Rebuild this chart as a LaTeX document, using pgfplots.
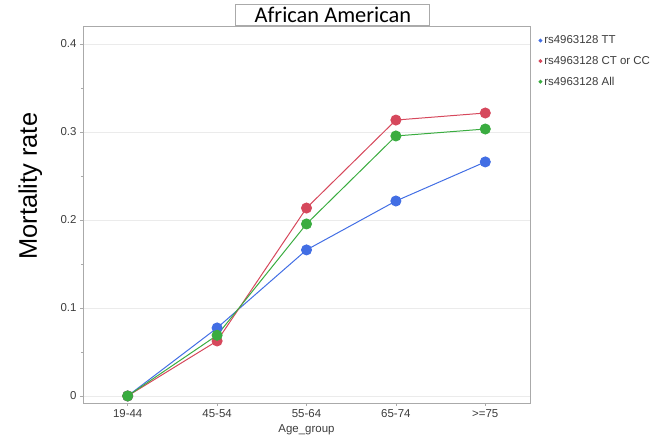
\documentclass[border=0pt]{standalone}
\usepackage{fontspec}
\setmainfont{Liberation Sans}
\newfontfamily\calibri{Carlito}
\usepackage{pgfplots}
\pgfplotsset{compat=1.18}
\definecolor{cblue}{RGB}{66,110,228}
\definecolor{cred}{RGB}{214,72,92}
\definecolor{cgreen}{RGB}{58,172,64}
\definecolor{axgray}{RGB}{170,170,170}
\definecolor{txtgray}{RGB}{60,60,60}
\begin{document}
\begin{tikzpicture}
\path[use as bounding box] (0,0) rectangle (653bp,442bp);
\begin{axis}[
  at={(83bp,39bp)}, anchor=south west,
  width=447bp, height=377bp, scale only axis,
  xmin=-0.5, xmax=4.5,
  ymin=-0.008, ymax=0.4205,
  xtick={0,1,2,3,4},
  xticklabels={19-44,45-54,55-64,65-74,>=75},
  ytick={0,0.1,0.2,0.3,0.4},
  yticklabels={0,0.1,0.2,0.3,0.4},
  minor ytick={0.05,0.15,0.25,0.35},
  ytick pos=left, xtick pos=bottom,
  tick align=outside,
  major tick length=3bp, minor tick length=2bp,
  tick style={axgray, line width=0.6pt},
  axis line style={axgray, line width=0.8pt},
  ymajorgrids, major grid style={color=black!8, line width=0.8pt},
  /pgf/number format/assume math mode=true,
  tick label style={font=\fontsize{11.5}{12}\selectfont, text=txtgray},
  xlabel={Age\_group},
  xlabel style={font=\fontsize{11.5}{12}\selectfont, text=txtgray, yshift=0bp},
  ylabel={Mortality rate},
  ylabel style={font=\fontsize{25.5}{28}\selectfont, at={(axis description cs:-0.118,0.575)}, anchor=center},
  every axis title shift=0pt,
  title={\calibri African American},
  title style={font=\fontsize{22.5}{24}\selectfont, at={(axis description cs:0.559,1)}, anchor=south,
    draw=axgray, line width=0.8pt, fill=white, minimum width=194bp, minimum height=21bp, inner sep=0pt},
  legend style={at={(1.012,0.985)}, anchor=north west, draw=none, fill=none,
    font=\fontsize{11.5}{12}\selectfont, text=txtgray, row sep=7bp, cells={anchor=west}},
  legend image code/.code={\fill[#1] (0.1cm,0) circle (1.4pt);},
  every axis plot/.append style={line width=1pt, mark=*, mark size=5bp, mark options={solid, draw opacity=1, fill opacity=1}},
  clip=false,
]
\addplot[cblue, mark options={fill=cblue, draw=cblue}] coordinates {(0,0) (1,0.0773) (2,0.166) (3,0.2216) (4,0.266)};
\addlegendentry{rs4963128 TT}
\addplot[cred, mark options={fill=cred, draw=cred}] coordinates {(0,0) (1,0.0625) (2,0.2136) (3,0.3136) (4,0.3216)};
\addlegendentry{rs4963128 CT or CC}
\addplot[cgreen, mark options={fill=cgreen, draw=cgreen}] coordinates {(0,0) (1,0.069) (2,0.1955) (3,0.2955) (4,0.3034)};
\addlegendentry{rs4963128 All}
\end{axis}
\end{tikzpicture}
\end{document}
